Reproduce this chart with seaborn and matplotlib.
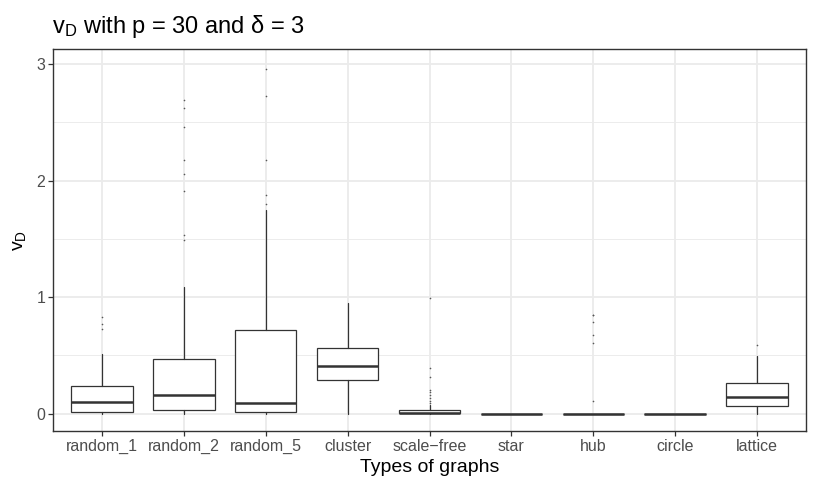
import matplotlib
matplotlib.use("Agg")
import matplotlib.pyplot as plt
import seaborn as sns
import numpy as np

categories = ["random_1", "random_2", "random_5", "cluster", "scale\u2212free",
              "star", "hub", "circle", "lattice"]
q1 = [0.015, 0.032, 0.015, 0.286, 0.002, 0.0, 0.0, 0.0, 0.066]
median = [0.100, 0.163, 0.095, 0.407, 0.006, 0.0, 0.0, 0.0, 0.140]
q3 = [0.235, 0.470, 0.720, 0.567, 0.028, 0.0, 0.0, 0.0, 0.264]
whisker_low = [0.0, 0.0, 0.0, 0.0, 0.0, 0.0, 0.0, 0.0, 0.0]
whisker_high = [0.516, 1.090, 1.745, 0.954, 0.077, 0.0, 0.0, 0.0, 0.499]
outliers = [
    [0.83, 0.77, 0.73],
    [2.69, 2.62, 2.46, 2.18, 2.06, 1.91, 1.53, 1.49],
    [2.96, 2.73, 2.18, 1.88, 1.80],
    [],
    [0.995, 0.393, 0.312, 0.206, 0.187, 0.16, 0.135, 0.11, 0.09],
    [],
    [0.851, 0.843, 0.785, 0.671, 0.608, 0.106],
    [],
    [0.593],
]
y_ticks = [0, 1, 2, 3]

sns.set_theme(style="whitegrid")
plt.rcParams["font.family"] = ["Liberation Sans", "DejaVu Sans"]
plt.rcParams["mathtext.fontset"] = "custom"
plt.rcParams["mathtext.rm"] = "Liberation Sans"
plt.rcParams["mathtext.it"] = "Liberation Sans:italic"

fig = plt.figure(figsize=(8.17, 4.91), dpi=100)
ax = fig.add_axes([53 / 817, 1 - 431 / 491, (806 - 53) / 817, (431 - 49) / 491])

dark = "#333333"
stats = []
for i, c in enumerate(categories):
    stats.append(dict(label=c, q1=q1[i], med=median[i], q3=q3[i],
                      whislo=whisker_low[i], whishi=whisker_high[i],
                      fliers=np.array(outliers[i])))

positions = np.arange(len(categories))
ax.bxp(stats, positions=positions, widths=0.75, showcaps=False,
       patch_artist=True,
       boxprops=dict(facecolor="white", edgecolor=dark, linewidth=0.9),
       whiskerprops=dict(color=dark, linewidth=0.9),
       medianprops=dict(color=dark, linewidth=1.8),
       flierprops=dict(marker="o", markersize=0.9, markerfacecolor="#555555",
                       markeredgecolor="#555555", markeredgewidth=0.2,
                       linestyle="none"))

ax.set_xlim(-0.6, len(categories) - 0.4)
ax.set_ylim(-0.149, 3.13)
ax.set_xticks(positions)
ax.set_xticklabels(categories)
ax.set_yticks(y_ticks)
ax.set_yticks([0.5, 1.5, 2.5], minor=True)

ax.set_facecolor("white")
ax.grid(True, which="major", color="#EBEBEB", linewidth=1.3)
ax.grid(True, which="minor", color="#EBEBEB", linewidth=0.65)
ax.set_axisbelow(True)
for s in ax.spines.values():
    s.set_color(dark)
    s.set_linewidth(1.0)
    s.set_visible(True)

ax.tick_params(axis="both", which="major", length=3.5, width=0.9, color=dark,
               labelcolor="#4D4D4D", labelsize=11.5, pad=2, direction="out",
               bottom=True, left=True)
ax.tick_params(axis="both", which="minor", length=0)

ax.set_xlabel("Types of graphs", fontsize=14, color="black", labelpad=3.5)
ax.set_ylabel(r"$\mathregular{v_D}$", fontsize=14, color="black", labelpad=6)
fig.text(52 / 817, 1 - 33 / 491, r"$\mathregular{v_D}$ with p = 30 and δ = 3",
         fontsize=17, color="black", ha="left", va="baseline")

fig.savefig("out.png", dpi=100)
